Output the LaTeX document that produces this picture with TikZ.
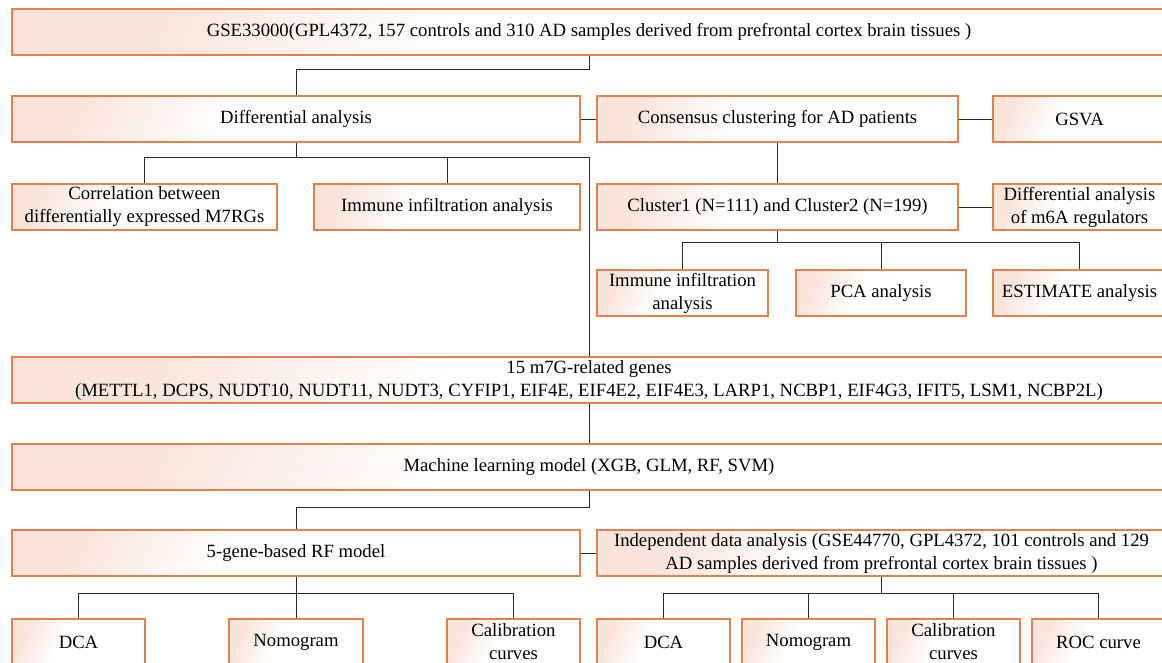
\documentclass[tikz,border=0pt]{standalone}
\usepackage{fontspec}
\setmainfont{Liberation Serif}
\usetikzlibrary{positioning, calc}
\definecolor{boxline}{RGB}{226,128,78}
\definecolor{boxfill}{RGB}{250,228,219}
\definecolor{linkcol}{RGB}{40,40,40}
\pgfdeclarehorizontalshading{boxshade}{100bp}{color(0bp)=(boxfill); color(25bp)=(boxfill); color(42bp)=(white); color(100bp)=(white)}

\begin{document}
\begin{tikzpicture}[
			x=1pt, y=-1pt,
			box/.style={
				draw=boxline,
				rectangle,
				line width=1.2pt,
				inner sep=0pt,
				minimum height=46,
				shading=boxshade,
				shading angle=-25,
				align=center,
				font=\fontsize{18.7}{23}\selectfont
			},
			link/.style={
				draw=linkcol,
				line width=1pt
			}
			]
			\useasboundingbox (0,0) rectangle (1162,662);
			\clip (0,0) rectangle (1162,662);
			
			% Data set
			\node[box, minimum width=1154] (gse) at (589,32) {GSE33000(GPL4372, 157 controls and 310 AD samples derived from prefrontal cortex brain tissues )};
			
			% Second row
			\node[box, minimum width=568] (diff) at (296,119) {Differential analysis};
			\node[box, minimum width=361] (cons) at (777.5,119) {Consensus clustering for AD patients};
			\node[box, minimum width=173] (gsva) at (1079.5,119) {GSVA};
			
			% Third row
			\node[box, minimum width=265] (corr) at (144.5,207) {Correlation between\\differentially expressed M7RGs};
			\node[box, minimum width=266] (immA) at (447,207) {Immune infiltration analysis};
			\node[box, minimum width=361] (clus) at (777.5,207) {Cluster1 (N=111) and Cluster2 (N=199)};
			\node[box, minimum width=173] (m6a) at (1079.5,207) {Differential analysis\\of m6A regulators};
			
			% Cluster analyses
			\node[box, minimum width=171] (immB) at (682.5,293) {Immune infiltration\\analysis};
			\node[box, minimum width=170] (pca) at (881,293) {PCA analysis};
			\node[box, minimum width=173] (est) at (1079.5,293) {ESTIMATE analysis};
			
			% Genes and model
			\node[box, minimum width=1154] (genes) at (589,380) {15 m7G-related genes\\(METTL1, DCPS, NUDT10, NUDT11, NUDT3, CYFIP1, EIF4E, EIF4E2, EIF4E3, LARP1, NCBP1, EIF4G3, IFIT5, LSM1, NCBP2L)};
			\node[box, minimum width=1154] (ml) at (589,467) {Machine learning model (XGB, GLM, RF, SVM)};
			\node[box, minimum width=568] (rf) at (296,553) {5-gene-based RF model};
			\node[box, minimum width=569] (indep) at (881.5,553) {Independent data analysis (GSE44770, GPL4372, 101 controls and 129\\AD samples derived from prefrontal cortex brain tissues )};
			
			% Validation
			\node[box, minimum width=133] (dcaA) at (78.5,642) {DCA};
			\node[box, minimum width=134] (nomoA) at (296,642) {Nomogram};
			\node[box, minimum width=133] (calA) at (513.5,642) {Calibration\\curves};
			\node[box, minimum width=133] (dcaB) at (663.5,642) {DCA};
			\node[box, minimum width=133] (nomoB) at (808.5,642) {Nomogram};
			\node[box, minimum width=133] (calB) at (953.5,642) {Calibration\\curves};
			\node[box, minimum width=133] (roc) at (1098.5,642) {ROC curve};
			
			% Links
			\draw[link] (gse.south) -- ++(0,14) -| (diff.north);
			\draw[link] (diff.east) -- (cons.west);
			\draw[link] (cons.east) -- (gsva.west);
			\draw[link] (diff.south) -- ++(0,15) coordinate (dsplit) -| (corr.north);
			\draw[link] (dsplit) -| (immA.north);
			\draw[link] (dsplit) -| (genes.north);
			\draw[link] (cons.south) -- (clus.north);
			\draw[link] (clus.east) -- (m6a.west);
			\draw[link] (clus.south) -- ++(0,12) coordinate (csplit) -| (immB.north);
			\draw[link] (csplit) -| (pca.north);
			\draw[link] (csplit) -| (est.north);
			\draw[link] (genes.south) -- (ml.north);
			\draw[link] (ml.south) -- ++(0,17) -| (rf.north);
			\draw[link] (rf.east) -- (indep.west);
			\draw[link] (rf.south) -- ++(0,17) coordinate (rsplit) -| (dcaA.north);
			\draw[link] (rsplit) -| (nomoA.north);
			\draw[link] (rsplit) -| (calA.north);
			\draw[link] (indep.south) -- ++(0,17) coordinate (isplit) -| (dcaB.north);
			\draw[link] (isplit) -| (nomoB.north);
			\draw[link] (isplit) -| (calB.north);
			\draw[link] (isplit) -| (roc.north);
		\end{tikzpicture}
\end{document}
